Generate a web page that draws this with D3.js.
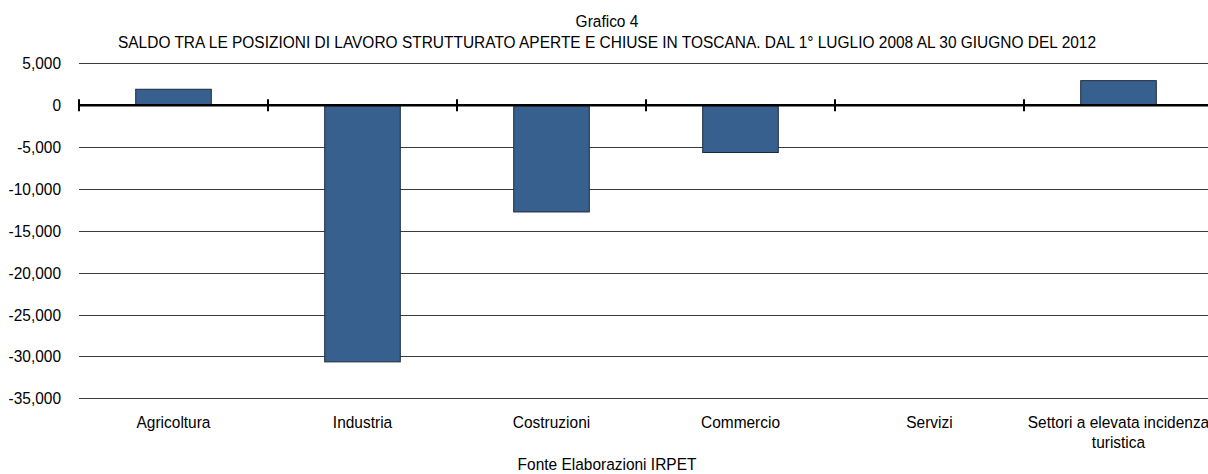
<!DOCTYPE html>
<html>
<head>
<meta charset="utf-8">
<script src="https://cdn.jsdelivr.net/npm/d3@7"></script>
<style>
    body { margin: 0; background: #fff; }
    svg text { font-family: "Liberation Sans", Arial, sans-serif; font-size: 17px; fill: #000; }
</style>
</head>
<body>
<div id="chart"></div>
<script>
var categories = ["Agricoltura", "Industria", "Costruzioni", "Commercio", "Servizi", "Settori a elevata incidenza turistica"];
var saldo = [1900, -30650, -12750, -5650, 0, 2930];
var yTicks = [5000, 0, -5000, -10000, -15000, -20000, -25000, -30000, -35000];
var titolo = "Grafico 4";
var sottotitolo = "SALDO TRA LE POSIZIONI DI LAVORO STRUTTURATO APERTE E CHIUSE IN TOSCANA. DAL 1° LUGLIO 2008 AL 30 GIUGNO DEL 2012";
var fonte = "Fonte Elaborazioni IRPET";

document.addEventListener("DOMContentLoaded", function(event) {
    drawChart(document.querySelector("#chart"));
});

// narrow-looking text: squeeze Liberation Sans horizontally (no Arial Narrow here)
var squeeze = 0.91;
function addText(parent, x, y, str, anchor) {
    return parent.append("text")
        .attr("transform", "translate(" + x + "," + y + ") scale(" + squeeze + ",1)")
        .attr("text-anchor", anchor || "middle")
        .text(str);
}

function drawChart(wrapper) {
    var width = 1208, height = 474;
    var left = 79, right = 1213, top = 63.3, bottom = 398.3;

    var svg = d3.select(wrapper).append("svg")
        .attr("width", width)
        .attr("height", height);

    var x = d3.scaleBand()
        .domain(categories)
        .range([left, right])
        .padding(0);

    var y = d3.scaleLinear()
        .domain([-35000, 5000])
        .range([bottom, top]);

    // titles
    addText(svg, 607, 27, titolo);
    addText(svg, 607, 48, sottotitolo);

    // gridlines (zero line drawn later as the axis)
    svg.append("g").selectAll("line")
        .data(yTicks.filter(function(d) { return d !== 0; }))
        .enter().append("line")
        .attr("x1", left).attr("x2", width)
        .attr("y1", function(d) { return Math.round(y(d)) + 0.5; })
        .attr("y2", function(d) { return Math.round(y(d)) + 0.5; })
        .attr("stroke", "#3a3a3a")
        .attr("stroke-width", 1);

    // y axis labels, plain hyphen as minus like the original
    var fmt = d3.formatLocale({decimal: ".", thousands: ",", grouping: [3], currency: ["", ""], minus: "-"}).format(",");
    var yl = svg.append("g");
    yTicks.forEach(function(d) {
        addText(yl, 61, y(d), fmt(d), "end").attr("dy", "0.35em");
    });

    // bars
    var barW = x.bandwidth() * 0.4;
    svg.append("g").selectAll("rect")
        .data(categories.map(function(c, i) { return {cat: c, val: saldo[i]}; })
            .filter(function(d) { return d.val !== 0; }))
        .enter().append("rect")
        .attr("x", function(d) { return x(d.cat) + (x.bandwidth() - barW) / 2; })
        .attr("y", function(d) { return y(Math.max(0, d.val)); })
        .attr("width", barW)
        .attr("height", function(d) { return Math.abs(y(d.val) - y(0)); })
        .attr("fill", "#37608f")
        .attr("stroke", "#1c2a3a")
        .attr("stroke-width", 1);

    // zero axis with category ticks
    var y0 = y(0);
    svg.append("line")
        .attr("x1", left).attr("x2", width)
        .attr("y1", y0).attr("y2", y0)
        .attr("stroke", "#000")
        .attr("stroke-width", 2.5);
    svg.append("g").selectAll("line")
        .data(categories)
        .enter().append("line")
        .attr("x1", function(d) { return x(d); })
        .attr("x2", function(d) { return x(d); })
        .attr("y1", y0 - 6).attr("y2", y0 + 6)
        .attr("stroke", "#000")
        .attr("stroke-width", 2);

    // category labels
    var cl = svg.append("g");
    categories.forEach(function(d) {
        var cx = x(d) + x.bandwidth() / 2;
        var lines = d === "Settori a elevata incidenza turistica"
            ? ["Settori a elevata incidenza", "turistica"] : [d];
        lines.forEach(function(l, i) {
            addText(cl, cx, 428 + i * 20, l);
        });
    });

    // source
    addText(svg, 607, 470, fonte);
}
</script>
</body>
</html>
